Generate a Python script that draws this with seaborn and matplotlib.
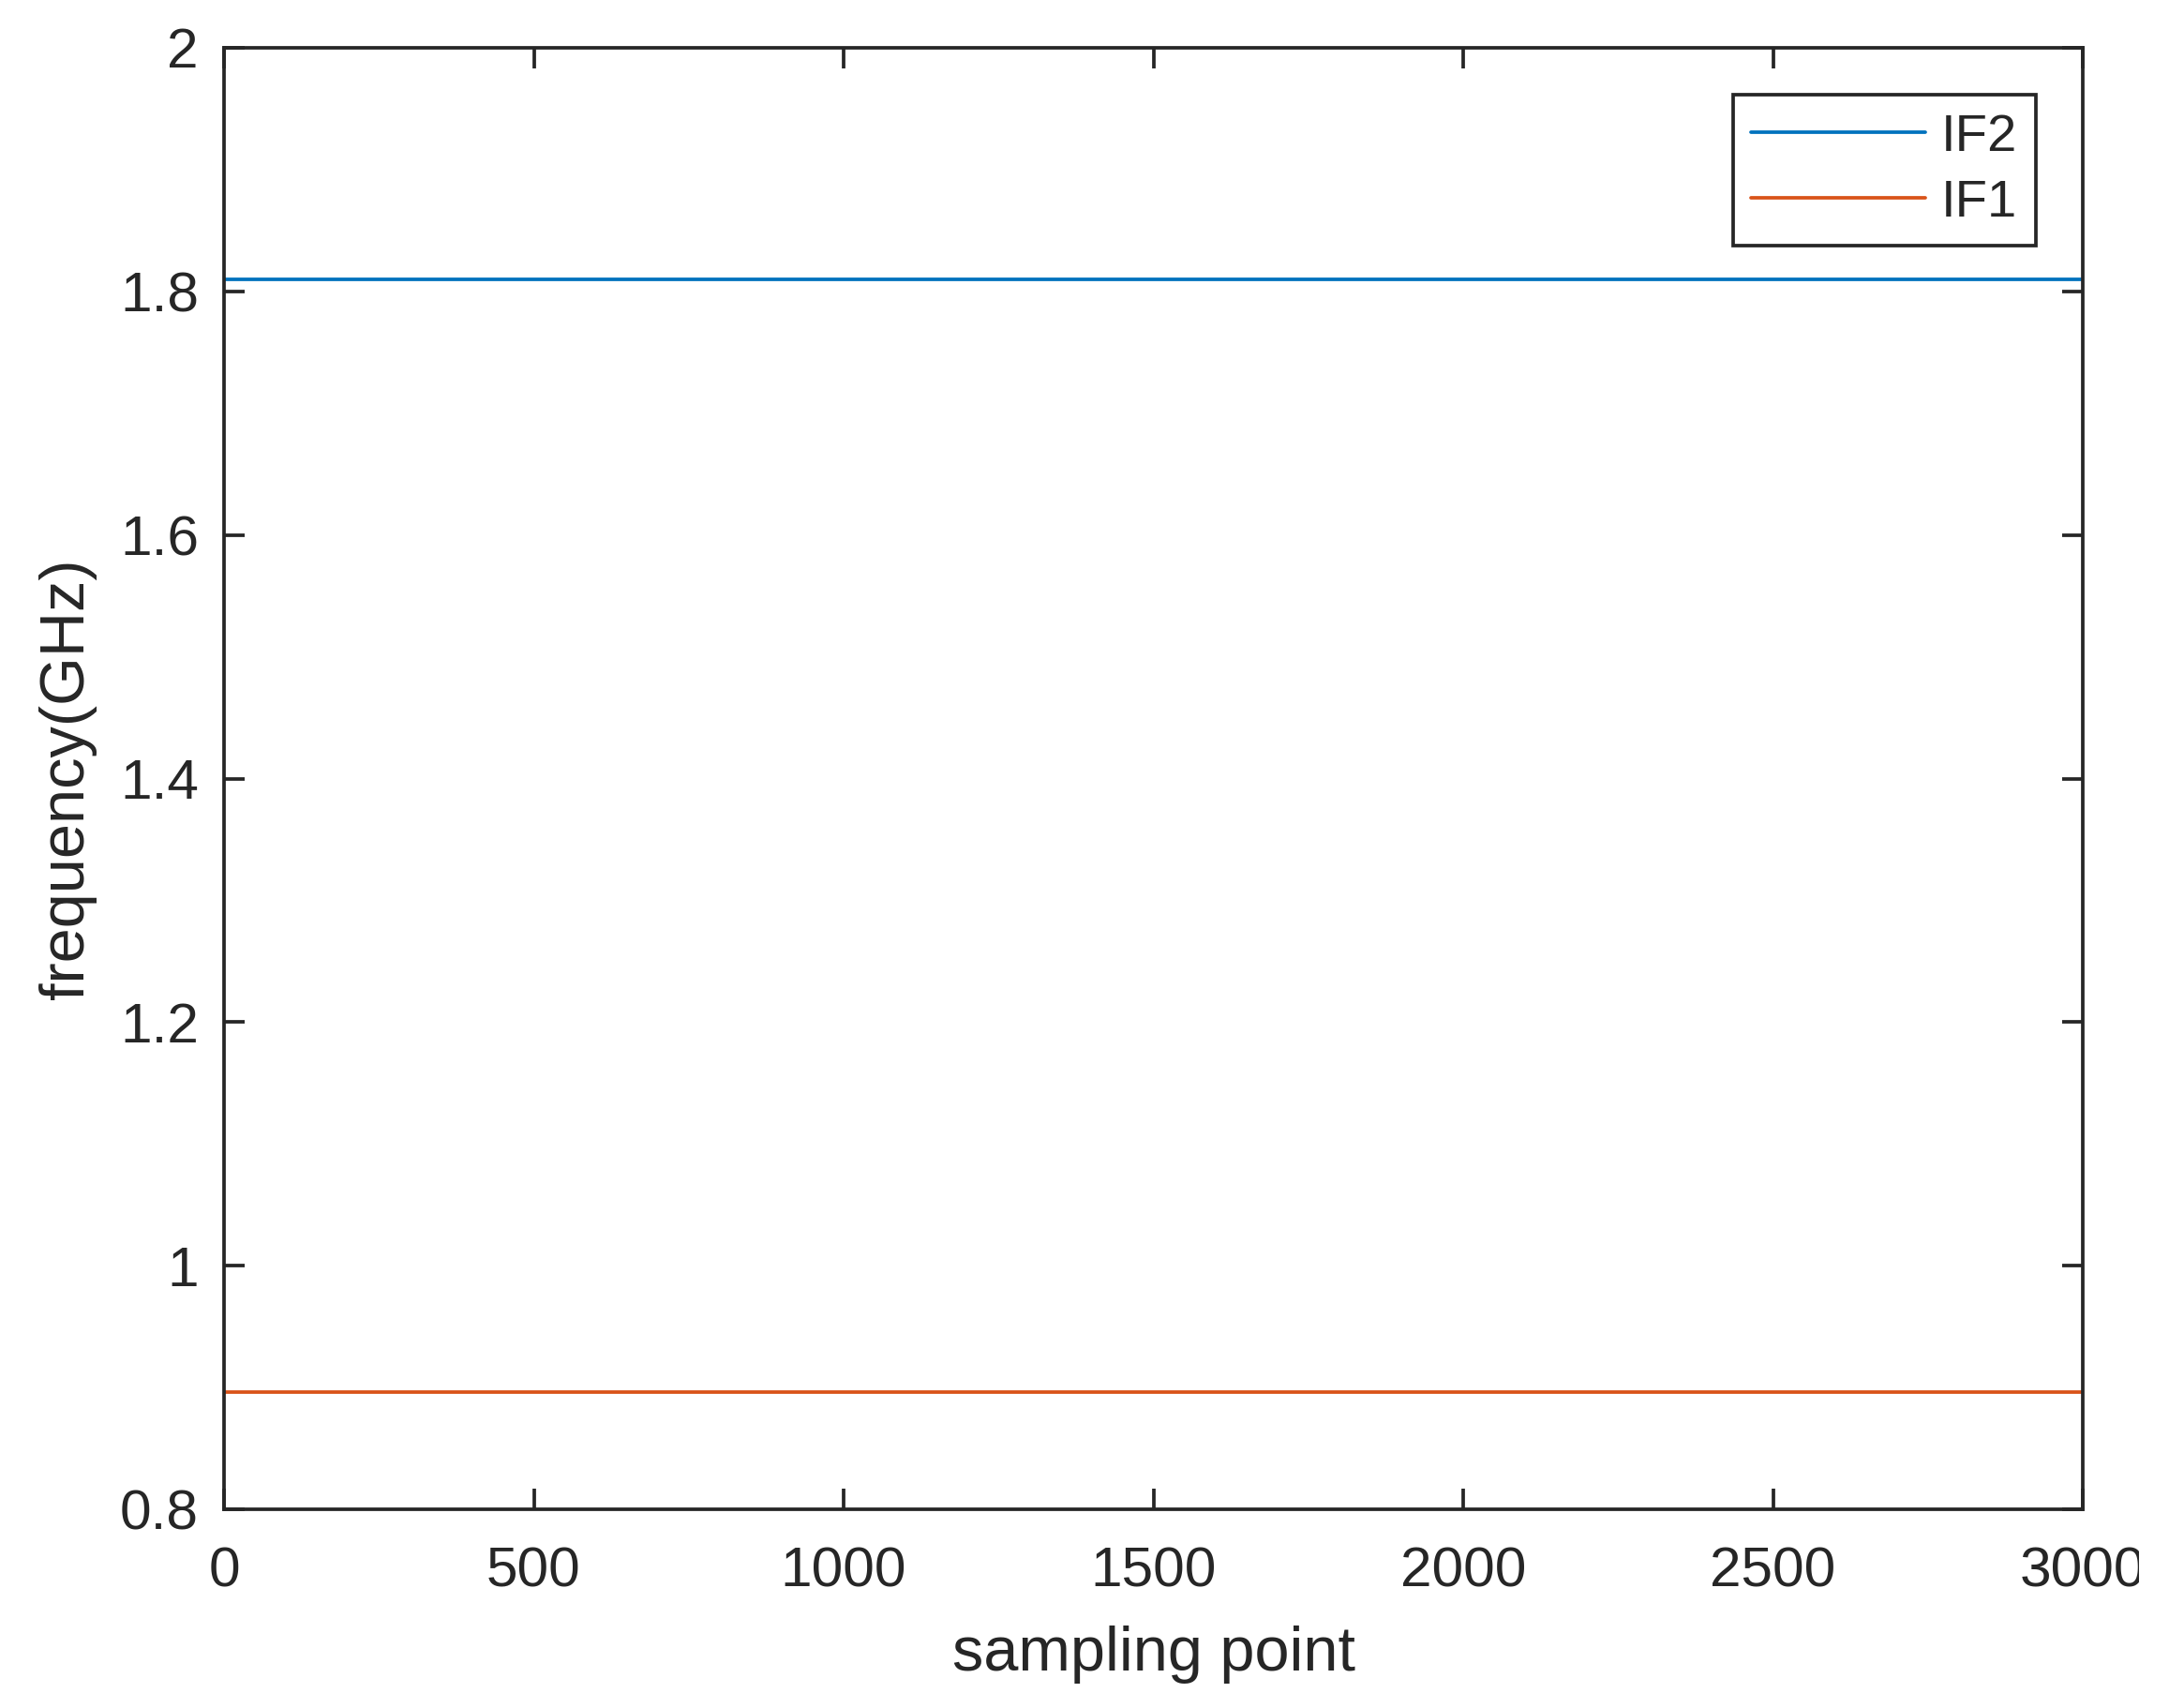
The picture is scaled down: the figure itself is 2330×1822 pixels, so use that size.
import matplotlib
matplotlib.use('Agg')
import matplotlib.pyplot as plt
import matplotlib.ticker as mticker
from matplotlib.transforms import Bbox, TransformedBbox
import seaborn as sns
import pandas as pd

# chart data
sample_points = [0, 3000]
if2_values = [1.81, 1.81]
if1_values = [0.896, 0.896]
series_names = ['IF2', 'IF1']
x_ticks = [0, 500, 1000, 1500, 2000, 2500, 3000]
y_ticks = [0.8, 1.0, 1.2, 1.4, 1.6, 1.8, 2.0]

df = pd.DataFrame({
    'sampling point': sample_points * 2,
    'frequency': if2_values + if1_values,
    'series': ['IF2'] * len(sample_points) + ['IF1'] * len(sample_points),
})

sns.set_style('ticks')
plt.rcParams['font.family'] = ['Liberation Sans', 'DejaVu Sans']
plt.rcParams['font.size'] = 14

W, H = 2330, 1822
fig = plt.figure(figsize=(W / 300, H / 300), dpi=300)
ax = fig.add_axes([239 / W, 1 - 1610 / H, (2222 - 239) / W, (1610 - 51) / H])

palette = {'IF2': '#0072BD', 'IF1': '#D95319'}
sns.lineplot(data=df, x='sampling point', y='frequency', hue='series',
             hue_order=series_names, palette=palette, linewidth=0.9, ax=ax)

ax.set_xlim(0, 3000)
ax.set_ylim(0.8, 2.0)
ax.set_xticks(x_ticks)
ax.set_yticks(y_ticks)
ax.yaxis.set_major_formatter(mticker.FormatStrFormatter('%g'))
ax.tick_params(direction='in', length=5.3, width=0.9, top=True, right=True,
               labelsize=14.5, colors='#262626')
ax.tick_params(axis='x', pad=9.5)
ax.tick_params(axis='y', pad=6.5)
for s in ax.spines.values():
    s.set_visible(True)
    s.set_linewidth(0.9)
    s.set_color('#262626')

ax.set_xlabel('sampling point', fontsize=16, color='#262626', labelpad=7)
ax.set_ylabel('frequency(GHz)', fontsize=16, color='#262626', labelpad=6)

# the reference cuts the last x label at its right edge
clip = TransformedBbox(Bbox([[0, 0], [2282 / W, 1]]), fig.transFigure)
last = ax.get_xticklabels()[-1]
last.set_clip_box(clip)
last.set_clip_on(True)

leg = ax.legend(loc='upper right', bbox_to_anchor=(0.9748, 0.968), fontsize=13.5,
                frameon=True, fancybox=False, edgecolor='#262626',
                handlelength=3.3, handletextpad=0.3, borderpad=0.35, labelspacing=0.32,
                borderaxespad=0)
leg.get_frame().set_linewidth(0.9)
leg.get_frame().set_alpha(1)

fig.savefig('out.png', dpi=300)
